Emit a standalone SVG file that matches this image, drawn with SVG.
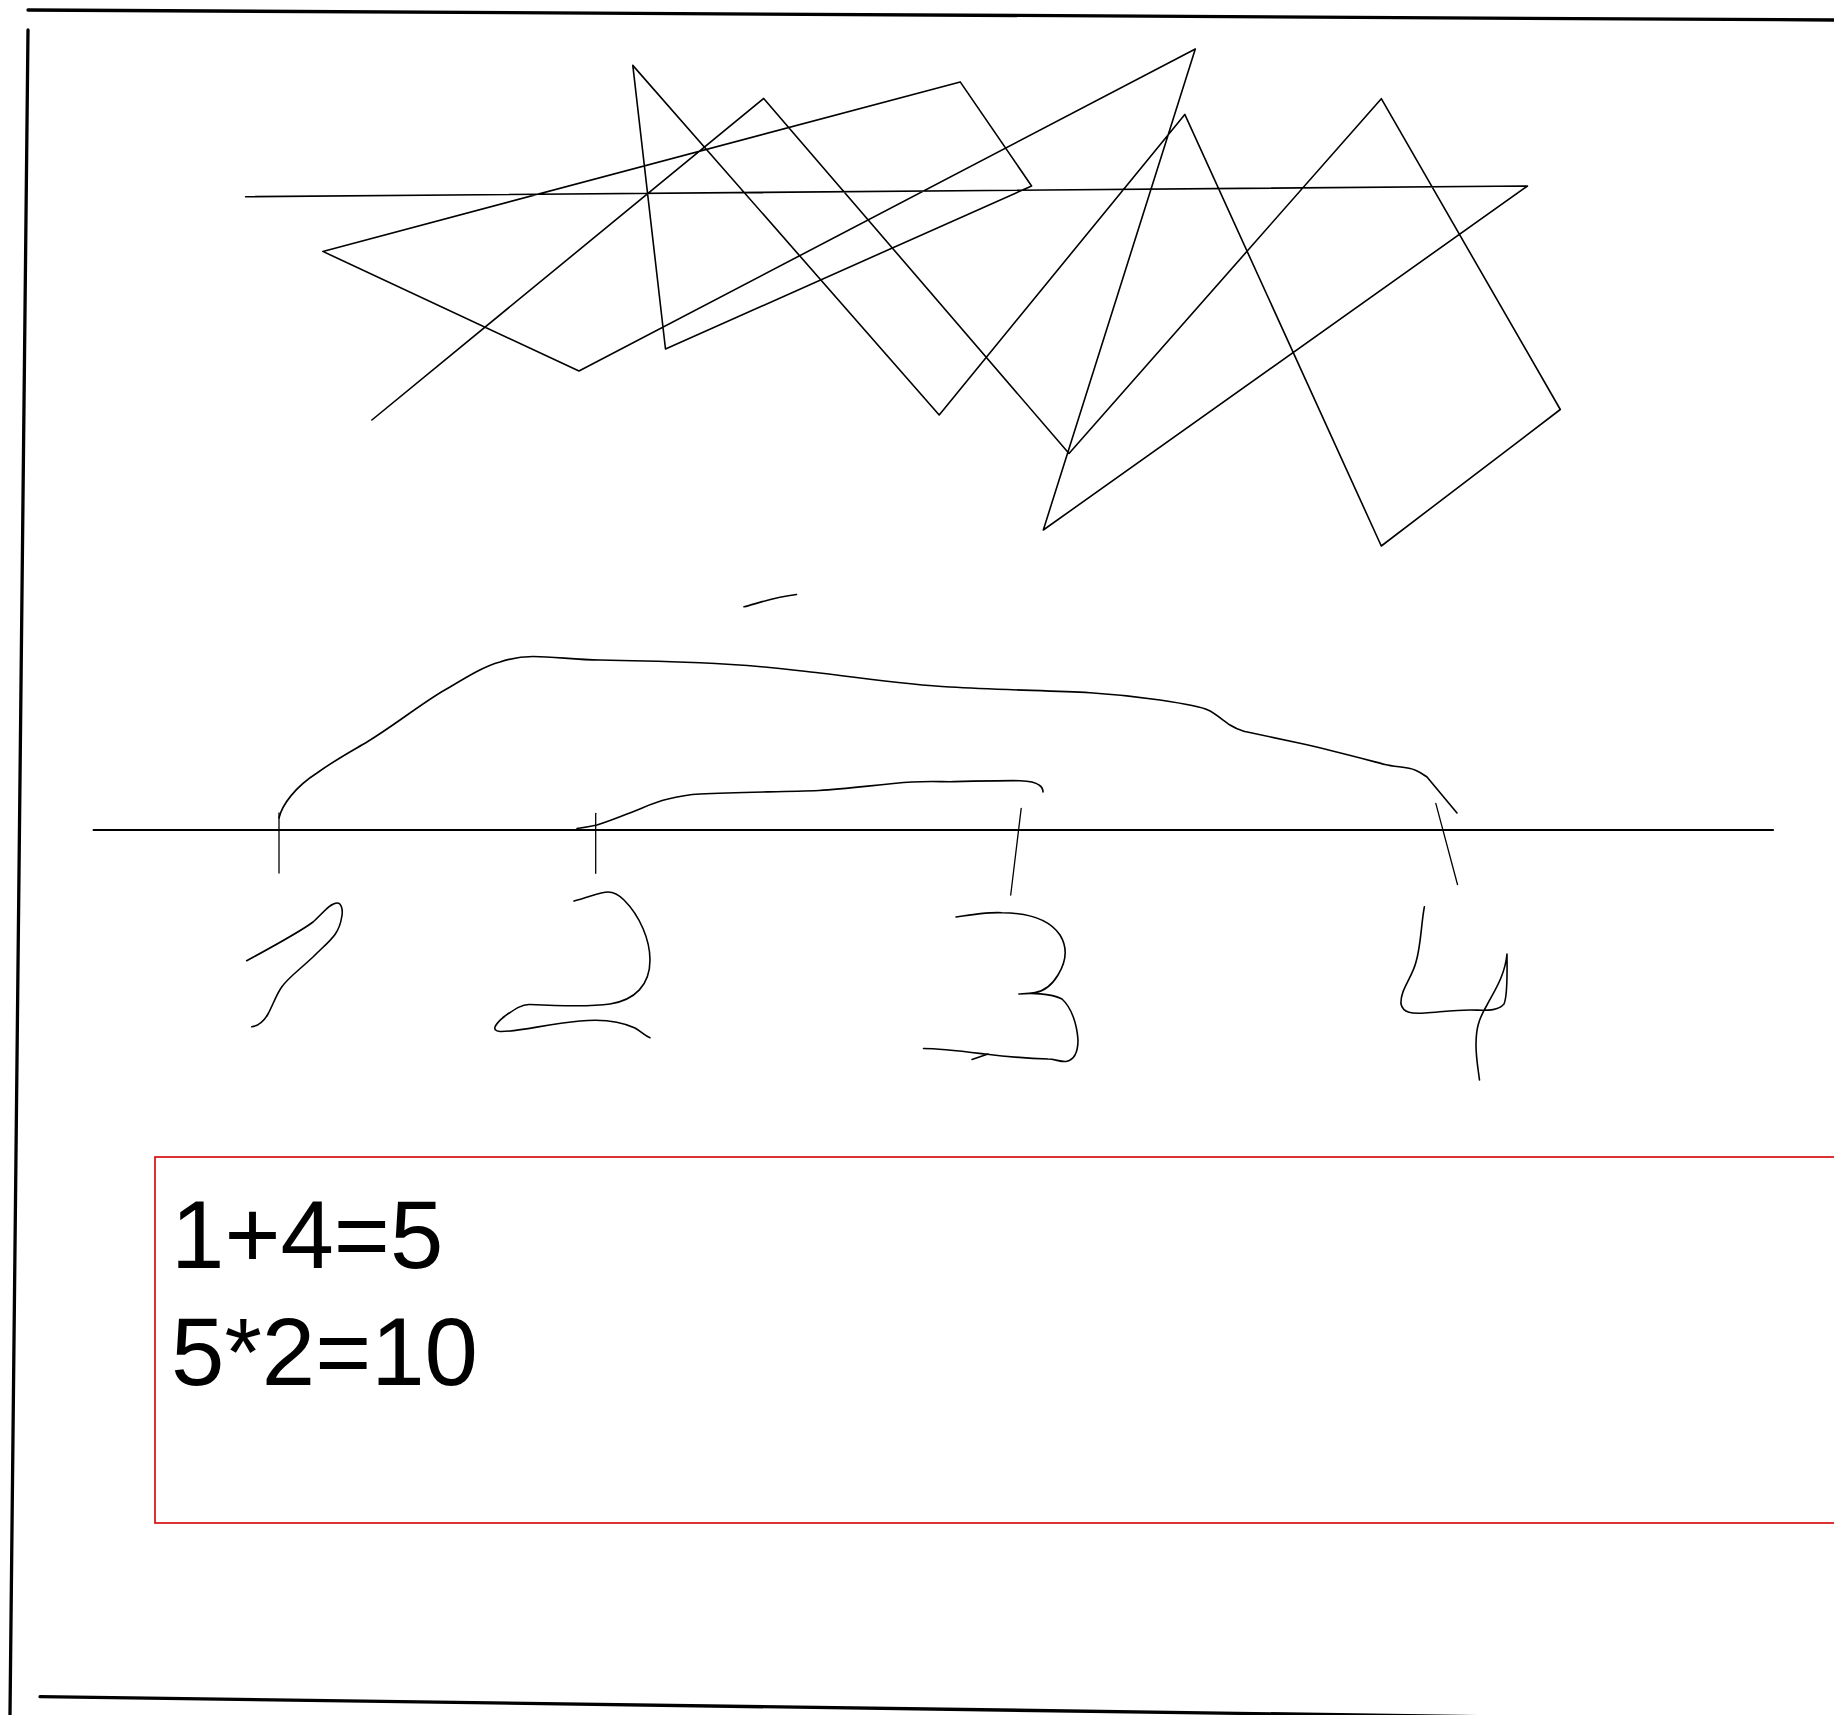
<svg xmlns="http://www.w3.org/2000/svg" width="1834" height="1715" viewBox="0 0 1834 1715">
<style>
.ink{fill:none;stroke:#000;stroke-linecap:round;stroke-linejoin:round}
.border{stroke-width:3.3}
.scr{stroke-width:1.6}
.pen{stroke-width:1.6}
.tick{stroke-width:1.3}
.txt{font-family:"Liberation Sans",Arial,sans-serif;font-size:96px;fill:#000}
</style>
<rect width="1834" height="1715" fill="#fff"/>
<g id="frame">
<line class="ink border" x1="28" y1="10" x2="1834" y2="20"/>
<line class="ink border" x1="28" y1="30" x2="10" y2="1715"/>
<line class="ink border" x1="40" y1="1696.7" x2="1834" y2="1721.6"/>
</g>
<g id="scribble">
<polyline class="ink scr" points="245.6,196.7 1527.5,186 1043.3,530 1195.3,49 579,371 322.8,251.4 960.2,81.9 1031.6,186 665.5,349 632.8,65.4 939.2,415 1184.8,114.4 1381.3,546 1560.3,409.5 1381.3,98.7 1069,453.5 763.7,98.4 371.9,420"/>
</g>
<g id="dash">
<path class="ink pen" d="M744,606.8 C756,604 770,598 796.5,594.5"/>
</g>
<g id="number-line">
<line class="ink" stroke-width="2.2" x1="93.6" y1="830" x2="1773" y2="830"/>
<line class="ink tick" x1="279" y1="813" x2="279" y2="873"/>
<line class="ink tick" x1="595.7" y1="813.3" x2="595.7" y2="873.3"/>
<line class="ink tick" x1="1021.2" y1="808.3" x2="1010.7" y2="895"/>
<line class="ink tick" x1="1435.8" y1="803.3" x2="1457.5" y2="884.5"/>
</g>
<g id="arcs">
<path class="ink pen" d="M279,818 C282,805 295,787 317,773 C335,760 350,752 367,742 C380,734 390,727 400,720 C420,706 435,695 450,687 C470,675 485,666 500,662 C512,658 522,656.5 533,656.5 C555,656.5 575,660 600,660 C630,660.5 650,661 700,662.7 C760,665 790,670 820,673 C870,679 910,685 950,687 C1000,690 1050,690.5 1090,692.7 C1120,694.5 1140,697 1160,700 C1180,703 1200,706 1208,710 C1215,713 1225,722 1230,725 C1236,729 1240,730 1245,731.5 C1270,737 1290,741 1300,743.3 C1330,750 1360,758 1385,764.5 C1395,767 1408,767 1415,770 C1420,772 1424,775 1427,777 C1437,789 1447,801 1457,813"/>
<path class="ink pen" d="M577,828.5 C585,827.5 590,826.5 597,825 C610,821 622,816 633,811.7 C645,807 655,802 667,799.3 C680,796 690,794.5 700,794 C740,792 780,792 819,790.5 C850,789 880,784 912,782 C930,781 940,781.7 950,781.7 C980,781 1000,780.5 1020,780.7 C1030,781 1036,782.5 1039,785 C1042,787 1043,790 1043,792"/>
</g>
<g id="digit-1">
<path class="ink pen" d="M246.7,960.7 C270,948 300,932 313,922 C322,914 330,903 337,903 C342,903 343,911 341.7,917 C339,935 330,940 313,957 C298,971 288,978 281.7,987 C276,995 273,1005 268,1014 C264,1021 258,1026 251.7,1026.7"/>
</g>
<g id="digit-2">
<path class="ink pen" d="M574,901 C590,897 600,892 608,892 C614,892 618,894 624,900 C640,916 650,940 650,960 C650,985 635,1000 610,1004 C590,1007 560,1006 530,1004.5 C522,1004 515,1009 505,1016 C496,1023 490,1031 500,1031.5 C520,1032 545,1024 580,1021 C600,1019 620,1021 635,1028 C642,1032 645,1036 650,1037.7"/>
</g>
<g id="digit-3">
<path class="ink pen" d="M956,917 C975,914 990,912 1002,912.7 C1030,913 1050,920 1060,935 C1068,948 1066,962 1058,975 C1052,985 1045,991 1035,992.5 C1028,993.5 1022,993.7 1018.9,994 C1030,993 1050,993 1062,999 C1072,1008 1077,1025 1078,1040 C1078,1052 1074,1060 1066,1061.5 C1060,1062 1055,1059 1048,1059 C1030,1058.5 1010,1057 985,1054 C960,1051 940,1048.5 923.5,1048.5"/>
<path class="ink pen" d="M972,1059.5 L988,1054"/>
</g>
<g id="digit-4">
<path class="ink pen" d="M1424.4,906.7 C1421,925 1421,945 1416,962 C1412,978 1400,990 1401,1004 C1403,1013 1412,1014 1425,1013 C1440,1012 1455,1010 1470,1010 C1485,1010 1497,1012 1504,1004 C1508,995 1507,970 1507,954 C1505,975 1495,990 1487,1005 C1478,1020 1476,1030 1476,1045 C1476,1058 1478,1068 1479.5,1080"/>
</g>
<g id="result-box">
<rect x="155" y="1157" width="1700" height="366" fill="none" stroke="#d10000" stroke-width="1.6"/>
<text class="txt" x="171" y="1268">1+4=5</text>
<text class="txt" x="171" y="1385">5*2=10</text>
</g>
</svg>
